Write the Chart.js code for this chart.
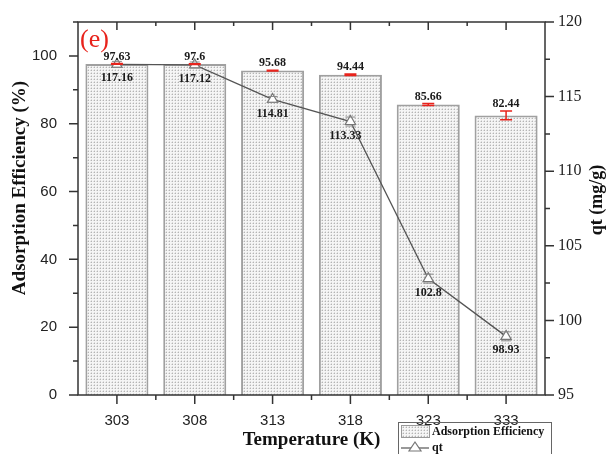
<!DOCTYPE html>
<html>
<head>
<meta charset="utf-8">
<script src="https://cdn.jsdelivr.net/npm/chart.js@4.4.1/dist/chart.umd.min.js"></script>
<style>
  html, body { margin: 0; padding: 0; background: #fff; }
  #wrap { width: 607px; height: 454px; position: relative; }
</style>
</head>
<body>
<div id="wrap"><canvas id="chart"></canvas></div>
<script>
// Temperature effect on adsorption
const temperatures = ['303', '308', '313', '318', '323', '333'];
const efficiency = [97.63, 97.6, 95.68, 94.44, 85.66, 82.44];
const efficiencyErr = [0.1, 0.1, 0.12, 0.25, 0.3, 1.3];
const qt = [117.16, 117.12, 114.81, 113.33, 102.8, 98.93];
const qtErr = [0.2, 0.2, 0.2, 0.3, 0.3, 0.3];
const effTicks = [0, 20, 40, 60, 80, 100];
const qtTicks = [95, 100, 105, 110, 115, 120];

const SERIF = "'Liberation Serif', 'Times New Roman', serif";
const SANS = "'Liberation Sans', Arial, sans-serif";

// dotted fill used by the bars
function makeDotPattern() {
    const c = document.createElement('canvas');
    c.width = 3;
    c.height = 3;
    const g = c.getContext('2d');
    g.fillStyle = '#f5f5f5';
    g.fillRect(0, 0, 3, 3);
    g.fillStyle = '#b4b4b4';
    g.fillRect(1, 1, 1, 1);
    g.fillStyle = '#dcdcdc';
    g.fillRect(0, 1, 1, 1);
    g.fillRect(1, 0, 1, 1);
    return g.createPattern(c, 'repeat');
}

// frame, tick marks, axis titles, panel letter and legend
const framePlugin = {
    id: 'frame',
    afterDraw(chart) {
        const ctx = chart.ctx;
        const a = chart.chartArea;
        const x = chart.scales.x, y = chart.scales.y, y1 = chart.scales.y1;
        ctx.save();
        ctx.strokeStyle = '#333';
        ctx.lineWidth = 1.5;
        ctx.strokeRect(a.left, a.top, a.right - a.left, a.bottom - a.top);

        ctx.beginPath();
        // left axis
        for (let v = 0; v <= 110; v += 10) {
            const py = y.getPixelForValue(v);
            const len = v % 20 === 0 ? 9 : 5;
            ctx.moveTo(a.left, py);
            ctx.lineTo(a.left - len, py);
        }
        // right axis
        for (let v = 95; v <= 120; v += 2.5) {
            const py = y1.getPixelForValue(v);
            const len = v % 5 === 0 ? 9 : 5;
            ctx.moveTo(a.right, py);
            ctx.lineTo(a.right + len, py);
        }
        // bottom and top
        const step = x.getPixelForValue(1) - x.getPixelForValue(0);
        temperatures.forEach((t, i) => {
            const px = x.getPixelForValue(i);
            ctx.moveTo(px, a.bottom);
            ctx.lineTo(px, a.bottom + 9);
            ctx.moveTo(px, a.top);
            ctx.lineTo(px, a.top + 8);
            if (i < temperatures.length - 1) {
                const bx = px + step / 2;
                ctx.moveTo(bx, a.bottom);
                ctx.lineTo(bx, a.bottom + 5);
                ctx.moveTo(bx, a.top);
                ctx.lineTo(bx, a.top + 4);
            }
        });
        ctx.stroke();

        // axis titles
        ctx.fillStyle = '#111';
        ctx.font = 'bold 19px ' + SERIF;
        ctx.textAlign = 'center';
        ctx.textBaseline = 'middle';
        ctx.fillText('Temperature (K)', (a.left + a.right) / 2, 440);
        ctx.save();
        ctx.translate(20, 188);
        ctx.rotate(-Math.PI / 2);
        ctx.fillText('Adsorption Efficiency (%)', 0, 0);
        ctx.restore();
        ctx.font = 'bold 18px ' + SERIF;
        ctx.save();
        ctx.translate(597, 200);
        ctx.rotate(-Math.PI / 2);
        ctx.fillText('qt (mg/g)', 0, 0);
        ctx.restore();

        // panel letter
        ctx.fillStyle = '#e8231c';
        ctx.font = '26px ' + SERIF;
        ctx.textAlign = 'left';
        ctx.fillText('(e)', 80, 40);

        // legend
        const lx = 398, ly = 422;
        ctx.strokeStyle = '#666';
        ctx.lineWidth = 1;
        ctx.strokeRect(lx + 0.5, ly + 0.5, 153, 40);
        ctx.fillStyle = chart.data.datasets[1].backgroundColor;
        ctx.fillRect(lx + 3, ly + 3, 28, 12);
        ctx.strokeStyle = '#999';
        ctx.strokeRect(lx + 3.5, ly + 3.5, 28, 12);
        ctx.strokeStyle = '#555';
        ctx.lineWidth = 1.2;
        ctx.beginPath();
        ctx.moveTo(lx + 3, ly + 26);
        ctx.lineTo(lx + 31, ly + 26);
        ctx.stroke();
        ctx.fillStyle = '#fff';
        ctx.strokeStyle = '#777';
        ctx.beginPath();
        ctx.moveTo(lx + 17, ly + 20);
        ctx.lineTo(lx + 23, ly + 29);
        ctx.lineTo(lx + 11, ly + 29);
        ctx.closePath();
        ctx.fill();
        ctx.stroke();
        ctx.fillStyle = '#111';
        ctx.font = 'bold 12px ' + SERIF;
        ctx.textBaseline = 'middle';
        ctx.fillText('Adsorption Efficiency', lx + 34, ly + 10);
        ctx.fillText('qt', lx + 34, ly + 26);
        ctx.restore();
    }
};

// error bars and value labels
const labelPlugin = {
    id: 'labels',
    afterDatasetsDraw(chart) {
        const ctx = chart.ctx;
        const y = chart.scales.y, y1 = chart.scales.y1;
        const bars = chart.getDatasetMeta(1).data;
        const pts = chart.getDatasetMeta(0).data;
        ctx.save();
        ctx.lineWidth = 1.5;
        bars.forEach((bar, i) => {
            const top = y.getPixelForValue(efficiency[i] + efficiencyErr[i]);
            const bot = y.getPixelForValue(efficiency[i] - efficiencyErr[i]);
            ctx.strokeStyle = '#e8231c';
            ctx.beginPath();
            ctx.moveTo(bar.x - 6, top); ctx.lineTo(bar.x + 6, top);
            ctx.moveTo(bar.x - 6, bot); ctx.lineTo(bar.x + 6, bot);
            ctx.moveTo(bar.x, top); ctx.lineTo(bar.x, bot);
            ctx.stroke();
        });
        pts.forEach((p, i) => {
            const top = y1.getPixelForValue(qt[i] + qtErr[i]);
            const bot = y1.getPixelForValue(qt[i] - qtErr[i]);
            ctx.strokeStyle = '#888';
            ctx.lineWidth = 1;
            ctx.beginPath();
            ctx.moveTo(p.x - 5, top); ctx.lineTo(p.x + 5, top);
            ctx.moveTo(p.x - 5, bot); ctx.lineTo(p.x + 5, bot);
            ctx.stroke();
        });
        ctx.fillStyle = '#1a1a1a';
        ctx.font = 'bold 12px ' + SERIF;
        ctx.textAlign = 'center';
        ctx.textBaseline = 'bottom';
        bars.forEach((bar, i) => {
            const top = y.getPixelForValue(efficiency[i] + efficiencyErr[i]);
            ctx.fillText(String(efficiency[i]), bar.x, top - 1);
        });
        ctx.textBaseline = 'top';
        pts.forEach((p, i) => {
            const dx = i === 3 ? -5 : 0;
            ctx.fillText(String(qt[i]), p.x + dx, p.y + 8);
        });
        ctx.restore();
    }
};

document.addEventListener('DOMContentLoaded', () => {
    const ctx = document.getElementById('chart');
    ctx.width = 607;
    ctx.height = 454;
    const dots = makeDotPattern();

    new Chart(ctx, {
        type: 'bar',
        data: {
            labels: temperatures,
            datasets: [
                {
                    type: 'line',
                    label: 'qt',
                    data: qt,
                    yAxisID: 'y1',
                    borderColor: '#555',
                    borderWidth: 1.3,
                    pointStyle: 'triangle',
                    pointRadius: 6,
                    pointBackgroundColor: '#fff',
                    pointBorderColor: '#777',
                    pointBorderWidth: 1.2,
                    tension: 0,
                    order: 0
                },
                {
                    type: 'bar',
                    label: 'Adsorption Efficiency',
                    data: efficiency,
                    yAxisID: 'y',
                    backgroundColor: dots,
                    borderColor: '#a0a0a0',
                    borderWidth: 2,
                    borderSkipped: 'bottom',
                    barPercentage: 0.81,
                    categoryPercentage: 1,
                    order: 1
                }
            ]
        },
        options: {
            responsive: false,
            animation: false,
            devicePixelRatio: 1,
            layout: { padding: { top: 17, left: 0, right: 0, bottom: 0 } },
            plugins: {
                legend: { display: false },
                tooltip: { enabled: false }
            },
            scales: {
                x: {
                    offset: true,
                    grid: { display: false },
                    border: { display: false },
                    ticks: {
                        color: '#222',
                        font: { family: SANS, size: 15 },
                        padding: 9
                    },
                    afterFit(s) { s.height = 59; }
                },
                y: {
                    position: 'left',
                    min: 0,
                    max: 110,
                    afterBuildTicks(s) { s.ticks = effTicks.map(v => ({ value: v })); },
                    grid: { display: false },
                    border: { display: false },
                    ticks: {
                        color: '#222',
                        font: { family: SANS, size: 15 },
                        padding: 13
                    },
                    afterFit(s) { s.width = 78; }
                },
                y1: {
                    position: 'right',
                    min: 95,
                    max: 120,
                    afterBuildTicks(s) { s.ticks = qtTicks.map(v => ({ value: v })); },
                    grid: { display: false },
                    border: { display: false },
                    ticks: {
                        color: '#222',
                        font: { family: SERIF, size: 16 },
                        padding: 5
                    },
                    afterFit(s) { s.width = 62; }
                }
            }
        },
        plugins: [labelPlugin, framePlugin]
    });
});
</script>
</body>
</html>
